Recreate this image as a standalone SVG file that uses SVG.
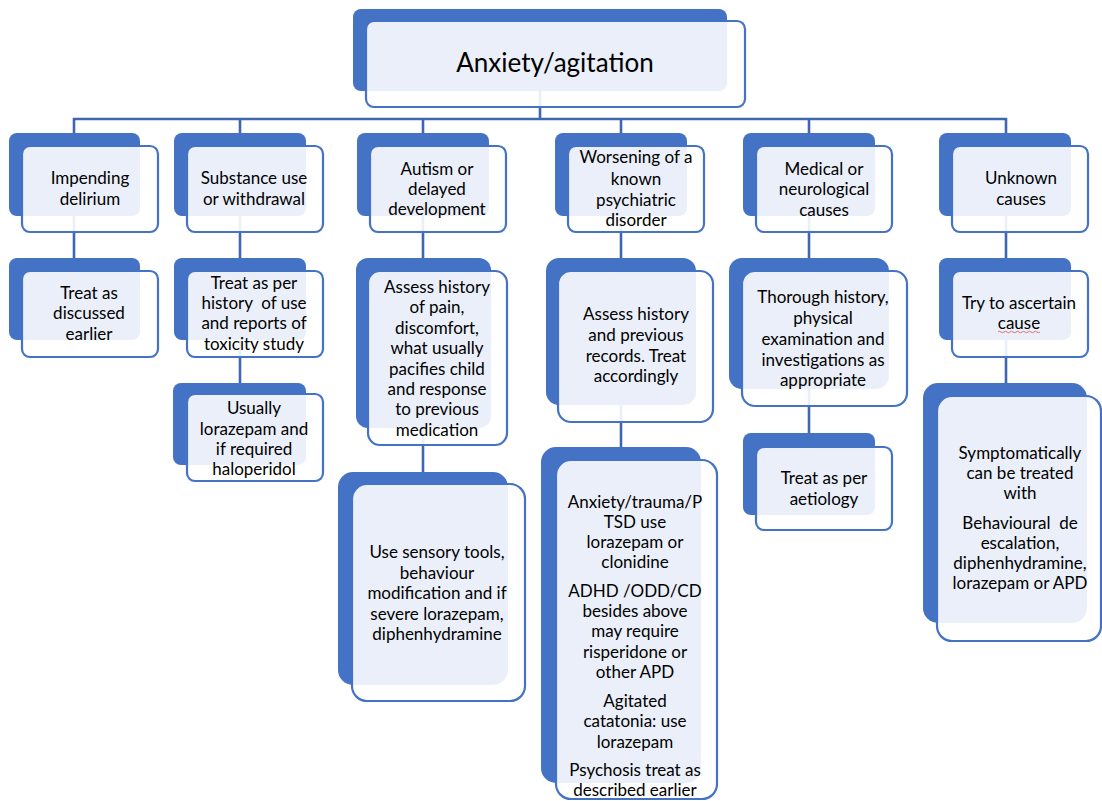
<svg xmlns="http://www.w3.org/2000/svg" width="1102" height="801" viewBox="0 0 1102 801">
  <style>
    .back { fill: #4472C4; }
    .front { fill: #ffffff; fill-opacity: 0.89; stroke: #4472C4; stroke-width: 2.2; }
    .lbl { font-family: Lato, "Liberation Sans", sans-serif; font-size: 17px; fill: #000000; text-anchor: middle; white-space: pre; }
    .title { font-family: Lato, "Liberation Sans", sans-serif; font-size: 26px; fill: #000000; text-anchor: middle; }
    .conn { stroke: #3F67B1; stroke-width: 2.6; fill: none; }
  </style>
  <rect width="1102" height="801" fill="#ffffff"/>

  <!-- connectors (drawn under the boxes) -->
  <g id="connectors">
    <line class="conn" x1="540" y1="91" x2="540" y2="119"/>
    <line class="conn" x1="73" y1="119" x2="1007" y2="119"/>
    <line class="conn" x1="74" y1="118" x2="74" y2="134"/>
    <line class="conn" x1="240" y1="118" x2="240" y2="134"/>
    <line class="conn" x1="423" y1="118" x2="423" y2="134"/>
    <line class="conn" x1="621" y1="118" x2="621" y2="134"/>
    <line class="conn" x1="809" y1="118" x2="809" y2="134"/>
    <line class="conn" x1="1006" y1="118" x2="1006" y2="134"/>
    <line class="conn" x1="74" y1="216" x2="74" y2="259"/>
    <line class="conn" x1="240" y1="216" x2="240" y2="259"/>
    <line class="conn" x1="240" y1="340" x2="240" y2="384"/>
    <line class="conn" x1="423" y1="216" x2="423" y2="259"/>
    <line class="conn" x1="423" y1="428" x2="423" y2="473"/>
    <line class="conn" x1="621" y1="216" x2="621" y2="259"/>
    <line class="conn" x1="621" y1="405" x2="621" y2="448"/>
    <line class="conn" x1="809" y1="216" x2="809" y2="259"/>
    <line class="conn" x1="809" y1="389" x2="809" y2="434"/>
    <line class="conn" x1="1006" y1="216" x2="1006" y2="259"/>
    <line class="conn" x1="1006" y1="340" x2="1006" y2="384"/>
  </g>

  <!-- root -->
  <g id="root">
    <rect class="back" x="353" y="9" width="374" height="82" rx="8"/>
    <rect class="front" x="366" y="21" width="379" height="86" rx="8"/>
    <text class="title" x="555" y="72">Anxiety/agitation</text>
  </g>

  <!-- column 1 -->
  <g id="impending-delirium">
    <rect class="back" x="9" y="133" width="131" height="83" rx="8"/>
    <rect class="front" x="22" y="146" width="136" height="86" rx="8"/>
    <text class="lbl"><tspan x="90" y="184">Impending</tspan><tspan x="90" y="205">delirium</tspan></text>
  </g>
  <g id="treat-discussed">
    <rect class="back" x="9" y="258" width="131" height="82" rx="8"/>
    <rect class="front" x="22" y="271" width="136" height="86" rx="8"/>
    <text class="lbl"><tspan x="89" y="299">Treat as</tspan><tspan x="89" y="319">discussed</tspan><tspan x="89" y="340">earlier</tspan></text>
  </g>

  <!-- column 2 -->
  <g id="substance-use">
    <rect class="back" x="174" y="133" width="132" height="83" rx="8"/>
    <rect class="front" x="187" y="146" width="136" height="86" rx="8"/>
    <text class="lbl"><tspan x="254" y="184">Substance use</tspan><tspan x="254" y="205">or withdrawal</tspan></text>
  </g>
  <g id="treat-history">
    <rect class="back" x="174" y="258" width="132" height="82" rx="8"/>
    <rect class="front" x="187" y="271" width="136" height="86" rx="8"/>
    <text class="lbl"><tspan x="254" y="289">Treat as per</tspan><tspan x="254" y="309">history  of use</tspan><tspan x="254" y="329">and reports of</tspan><tspan x="254" y="350">toxicity study</tspan></text>
  </g>
  <g id="lorazepam-haloperidol">
    <rect class="back" x="173" y="383" width="133" height="82" rx="8"/>
    <rect class="front" x="187" y="394" width="136" height="87" rx="8"/>
    <text class="lbl"><tspan x="254" y="414">Usually</tspan><tspan x="254" y="435">lorazepam and</tspan><tspan x="254" y="455">if required</tspan><tspan x="254" y="475">haloperidol</tspan></text>
  </g>

  <!-- column 3 -->
  <g id="autism">
    <rect class="back" x="357" y="133" width="132" height="83" rx="8"/>
    <rect class="front" x="370" y="146" width="136" height="86" rx="8"/>
    <text class="lbl"><tspan x="437" y="175">Autism or</tspan><tspan x="437" y="195">delayed</tspan><tspan x="437" y="215">development</tspan></text>
  </g>
  <g id="assess-pain">
    <rect class="back" x="356" y="258" width="135" height="170" rx="12"/>
    <rect class="front" x="368" y="271" width="139" height="174" rx="12"/>
    <text class="lbl"><tspan x="437" y="293">Assess history</tspan><tspan x="437" y="313">of pain,</tspan><tspan x="437" y="334">discomfort,</tspan><tspan x="437" y="354">what usually</tspan><tspan x="437" y="375">pacifies child</tspan><tspan x="437" y="395">and response</tspan><tspan x="437" y="415">to previous</tspan><tspan x="437" y="436">medication</tspan></text>
  </g>
  <g id="sensory-tools">
    <rect class="back" x="338" y="472" width="170" height="213" rx="15"/>
    <rect class="front" x="352" y="484" width="173" height="217" rx="15"/>
    <text class="lbl"><tspan x="437" y="558">Use sensory tools,</tspan><tspan x="437" y="579">behaviour</tspan><tspan x="437" y="599">modification and if</tspan><tspan x="437" y="620">severe lorazepam,</tspan><tspan x="437" y="640">diphenhydramine</tspan></text>
  </g>

  <!-- column 4 -->
  <g id="psychiatric-disorder">
    <rect class="back" x="555" y="133" width="132" height="83" rx="8"/>
    <rect class="front" x="568" y="146" width="136" height="86" rx="8"/>
    <text class="lbl"><tspan x="636" y="163">Worsening of a</tspan><tspan x="636" y="185">known</tspan><tspan x="636" y="206">psychiatric</tspan><tspan x="636" y="226">disorder</tspan></text>
  </g>
  <g id="assess-records">
    <rect class="back" x="546" y="258" width="150" height="147" rx="13"/>
    <rect class="front" x="558" y="271" width="155" height="151" rx="13"/>
    <text class="lbl"><tspan x="636" y="320">Assess history</tspan><tspan x="636" y="341">and previous</tspan><tspan x="636" y="362">records. Treat</tspan><tspan x="636" y="382">accordingly</tspan></text>
  </g>
  <g id="disorder-treatment">
    <rect class="back" x="541" y="447" width="160" height="336" rx="15"/>
    <rect class="front" x="556" y="460" width="161" height="339" rx="15"/>
    <text class="lbl"><tspan x="635" y="508">Anxiety/trauma/P</tspan><tspan x="635" y="528">TSD use</tspan><tspan x="635" y="548">lorazepam or</tspan><tspan x="635" y="568">clonidine</tspan><tspan x="635" y="597">ADHD /ODD/CD</tspan><tspan x="635" y="617">besides above</tspan><tspan x="635" y="637">may require</tspan><tspan x="635" y="658">risperidone or</tspan><tspan x="635" y="678">other APD</tspan><tspan x="635" y="707">Agitated</tspan><tspan x="635" y="727">catatonia: use</tspan><tspan x="635" y="748">lorazepam</tspan><tspan x="635" y="776">Psychosis treat as</tspan><tspan x="635" y="796">described earlier</tspan></text>
  </g>

  <!-- column 5 -->
  <g id="medical-causes">
    <rect class="back" x="743" y="133" width="132" height="83" rx="8"/>
    <rect class="front" x="756" y="146" width="136" height="86" rx="8"/>
    <text class="lbl"><tspan x="824" y="175">Medical or</tspan><tspan x="824" y="195">neurological</tspan><tspan x="824" y="216">causes</tspan></text>
  </g>
  <g id="thorough-history">
    <rect class="back" x="729" y="258" width="160" height="131" rx="13"/>
    <rect class="front" x="742" y="271" width="165" height="135" rx="13"/>
    <text class="lbl"><tspan x="823" y="303">Thorough history,</tspan><tspan x="823" y="324">physical</tspan><tspan x="823" y="345">examination and</tspan><tspan x="823" y="366">investigations as</tspan><tspan x="823" y="386">appropriate</tspan></text>
  </g>
  <g id="treat-aetiology">
    <rect class="back" x="743" y="433" width="132" height="82" rx="8"/>
    <rect class="front" x="756" y="447" width="136" height="83" rx="8"/>
    <text class="lbl"><tspan x="824" y="484">Treat as per</tspan><tspan x="824" y="505">aetiology</tspan></text>
  </g>

  <!-- column 6 -->
  <g id="unknown-causes">
    <rect class="back" x="939" y="133" width="132" height="83" rx="8"/>
    <rect class="front" x="952" y="146" width="136" height="86" rx="8"/>
    <text class="lbl"><tspan x="1021" y="184">Unknown</tspan><tspan x="1021" y="205">causes</tspan></text>
  </g>
  <g id="ascertain-cause">
    <rect class="back" x="939" y="258" width="132" height="82" rx="8"/>
    <rect class="front" x="952" y="271" width="136" height="86" rx="8"/>
    <text class="lbl"><tspan x="1019" y="309">Try to ascertain</tspan><tspan x="1019" y="329">cause</tspan></text>
    <path d="M998,332 q1.5,-1.5 3,0 t3,0 t3,0 t3,0 t3,0 t3,0 t3,0 t3,0 t3,0 t3,0 t3,0 t3,0 t3,0 t3,0" fill="none" stroke="#E06060" stroke-width="0.9"/>
  </g>
  <g id="symptomatic-treatment">
    <rect class="back" x="923" y="383" width="164" height="240" rx="15"/>
    <rect class="front" x="937" y="396" width="164" height="245" rx="15"/>
    <text class="lbl"><tspan x="1020" y="459">Symptomatically</tspan><tspan x="1020" y="479">can be treated</tspan><tspan x="1020" y="499">with</tspan><tspan x="1020" y="529">Behavioural  de</tspan><tspan x="1020" y="549">escalation,</tspan><tspan x="1020" y="569">diphenhydramine,</tspan><tspan x="1020" y="589">lorazepam or APD</tspan></text>
  </g>
</svg>
